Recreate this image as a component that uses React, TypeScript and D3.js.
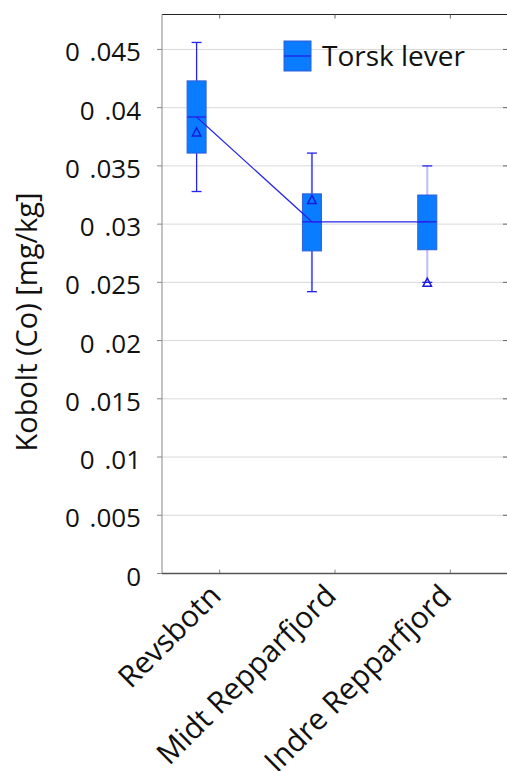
import React from "react";
import * as d3 from "d3";

const categories = ["Revsbotn", "Midt Repparfjord", "Indre Repparfjord"];
const whiskerMax = [0.0456, 0.0361, 0.035];
const q3 = [0.0423, 0.0326, 0.0325];
const median = [0.0392, 0.0302, 0.0302];
const q1 = [0.0361, 0.0277, 0.0278];
const whiskerMin = [0.0328, 0.0242, 0.025];
const means = [0.0379, 0.0321, 0.025];
const yTicks = [0, 0.005, 0.01, 0.015, 0.02, 0.025, 0.03, 0.035, 0.04, 0.045];
const yTickLabels = ["0", "0 .005", "0 .01", "0 .015", "0 .02", "0 .025", "0 .03", "0 .035", "0 .04", "0 .045"];
const seriesName = "Torsk lever";
const yTitle = "Kobolt (Co) [mg/kg]";

const W = 507;
const H = 771;
const left = 162;
const right = 508;
const top = 14.5;
const bottom = 573.5;
const font = "'Open Sans', sans-serif";
const boxFill = "#0a7cff";
const boxStroke = "#2f5fd8";
const blue = "#2424f0";
const whiskerOpacity = [1, 0.7, 0.3];

export default function App() {
  const y = d3.scaleLinear().domain([0, 0.048]).range([bottom, top]);
  const x = d3.scaleBand<string>().domain(categories).range([left, right]).padding(0);
  const bw = x.bandwidth();
  const center = (c: string) => (x(c) as number) + bw / 2;
  const off = -bw * 0.2;
  const boxW = 19;
  const capW = 10;

  const medianLine = d3
    .line<number>()
    .x((_, i) => center(categories[i]) + off)
    .y((d) => y(d));

  const tri = (cx: number, cy: number) => {
    const s = 4.2;
    return `M${cx},${cy - s}L${cx + s},${cy + s * 0.9}L${cx - s},${cy + s * 0.9}Z`;
  };

  return (
    <svg
      width={W}
      height={H}
      style={{ position: "absolute", left: 0, top: 0, display: "block", background: "#fff" }}
      fontFamily={font}
    >
      {yTicks.slice(1).map((t) => (
        <line key={"g" + t} x1={left} x2={right} y1={y(t)} y2={y(t)} stroke="#d9d9d9" strokeWidth={1} />
      ))}
      <line x1={left} x2={right} y1={top} y2={top} stroke="#222" strokeWidth={1.2} />
      <line x1={left} x2={left} y1={top} y2={bottom} stroke="#9a9a9a" strokeWidth={1.2} />
      {yTicks.map((t) => (
        <line key={"lt" + t} x1={left - 5} x2={left} y1={y(t)} y2={y(t)} stroke="#888" strokeWidth={1} />
      ))}
      {yTicks.map((t) => (
        <line key={"rt" + t} x1={right - 5} x2={right} y1={y(t)} y2={y(t)} stroke="#666" strokeWidth={1} />
      ))}
      {categories.map((c) => (
        <g key={"xt" + c}>
          <line x1={center(c)} x2={center(c)} y1={top} y2={top + 4} stroke="#666" strokeWidth={1} />
          <line x1={center(c)} x2={center(c)} y1={bottom} y2={bottom - 4} stroke="#888" strokeWidth={1} />
        </g>
      ))}
      <line x1={left} x2={right} y1={bottom} y2={bottom} stroke="#555" strokeWidth={1.4} />

      {yTicks.map((t, i) => (
        <text
          key={"yl" + t}
          x={141}
          y={y(t) + 12}
          textAnchor="end"
          fontSize={26}
          fill="#111"
          style={{ wordSpacing: "3px", whiteSpace: "pre" }}
        >
          {yTickLabels[i]}
        </text>
      ))}

      <text
        transform={`translate(37,${(top + bottom) / 2 + 28}) rotate(-90)`}
        textAnchor="middle"
        fontSize={29}
        fill="#111"
      >
        {yTitle}
      </text>

      {categories.map((c) => (
        <text
          key={"xl" + c}
          transform={`translate(${center(c) + 3},${bottom + 24}) rotate(-45)`}
          textAnchor="end"
          fontSize={30}
          fill="#111"
        >
          {c}
        </text>
      ))}

      {categories.map((c, i) => {
        const cx = center(c) + off;
        return (
          <g key={"b" + c}>
            <line
              x1={cx}
              x2={cx}
              y1={y(whiskerMax[i])}
              y2={y(q3[i])}
              stroke={blue}
              strokeWidth={whiskerOpacity[i] < 1 ? 2 : 1.3}
              strokeOpacity={whiskerOpacity[i]}
            />
            <line
              x1={cx}
              x2={cx}
              y1={y(q1[i])}
              y2={y(whiskerMin[i])}
              stroke={blue}
              strokeWidth={whiskerOpacity[i] < 1 ? 2 : 1.3}
              strokeOpacity={whiskerOpacity[i]}
            />
            <line x1={cx - capW / 2} x2={cx + capW / 2} y1={y(whiskerMax[i])} y2={y(whiskerMax[i])} stroke={blue} strokeWidth={1.3} />
            <line x1={cx - capW / 2} x2={cx + capW / 2} y1={y(whiskerMin[i])} y2={y(whiskerMin[i])} stroke={blue} strokeWidth={1.3} />
            <rect
              x={cx - boxW / 2}
              y={y(q3[i])}
              width={boxW}
              height={y(q1[i]) - y(q3[i])}
              fill={boxFill}
              stroke={boxStroke}
              strokeWidth={1}
            />
            <line x1={cx - boxW / 2} x2={cx + boxW / 2} y1={y(median[i])} y2={y(median[i])} stroke={blue} strokeWidth={1.4} />
          </g>
        );
      })}

      <path d={medianLine(median) || ""} fill="none" stroke={blue} strokeWidth={1.2} />

      {categories.map((c, i) => (
        <path key={"m" + c} d={tri(center(c) + off, y(means[i]))} fill="none" stroke="#1a1ae0" strokeWidth={1.5} />
      ))}

      <g>
        <rect x={284} y={41} width={27} height={30} fill={boxFill} stroke={boxStroke} strokeWidth={1} />
        <line x1={284} x2={311} y1={56} y2={56} stroke={blue} strokeWidth={1.4} />
        <text x={322} y={66} fontSize={28} fill="#111">
          {seriesName}
        </text>
      </g>
    </svg>
  );
}
